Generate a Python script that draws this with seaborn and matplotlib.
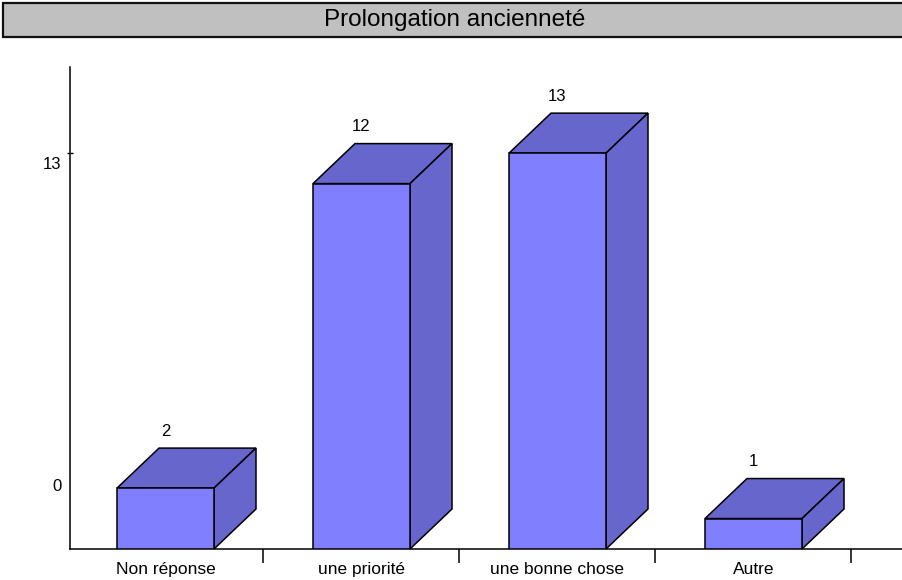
import matplotlib
matplotlib.use("Agg")
import matplotlib.pyplot as plt
from matplotlib.patches import Polygon, Rectangle
import seaborn as sns

# chart data
title = "Prolongation ancienneté"
categories = ["Non réponse", "une priorité", "une bonne chose", "Autre"]
values = [2, 12, 13, 1]
ytick_labels = ["0", "13"]

sns.set_style("white")
plt.rcParams["font.family"] = ["Liberation Sans", "DejaVu Sans"]
plt.rcParams["text.color"] = "black"
plt.rcParams["xtick.color"] = "black"
plt.rcParams["ytick.color"] = "black"

W, H = 903, 580
fig = plt.figure(figsize=(W / 100, H / 100), dpi=100)

# axes placed in pixel terms
left, right, bottom, top = 70, 903, 549, 67
ax = fig.add_axes([left / W, (H - bottom) / H, (right - left) / W, (bottom - top) / H])

px_unit = 30.45      # pixels per value unit
step = 196           # pixels between categories
c0 = 165.5           # pixel centre of first category

front = "#8080FF"
shade = "#6666CC"
sns.barplot(x=categories, y=values, ax=ax, width=97 / step, color=front,
            saturation=1, edgecolor="black", linewidth=1.1, zorder=3)
ax.set_xlim((left - c0) / step, (right - c0) / step)
ax.set_ylim(0, (bottom - top) / px_unit)

# 3D depth
dx = 42 / step
dy = 40 / px_unit
for p, v in zip(ax.patches, values):
    x0, w, h = p.get_x(), p.get_width(), p.get_height()
    top_face = [(x0, h), (x0 + dx, h + dy), (x0 + w + dx, h + dy), (x0 + w, h)]
    side_face = [(x0 + w, 0), (x0 + w, h), (x0 + w + dx, h + dy), (x0 + w + dx, dy)]
    for pts in (top_face, side_face):
        ax.add_patch(Polygon(pts, closed=True, fc=shade, ec="black", lw=1.1,
                             zorder=2, clip_on=False))
    ax.text(x0 + w / 2, h + dy + 17 / px_unit, str(v), ha="center", va="center",
            fontsize=12)

# axes styling
sns.despine(ax=ax)
for s in ("left", "bottom"):
    ax.spines[s].set_linewidth(1.1)
    ax.spines[s].set_color("black")
ax.set_xlabel("")
ax.set_ylabel("")
ax.tick_params(axis="x", which="major", length=0, pad=9.5, labelsize=12.5)
ax.set_xticks([i + 0.5 for i in range(len(categories))], minor=True)
ax.tick_params(axis="x", which="minor", bottom=True, length=10, width=1.1,
               direction="out", color="black")

# y labels sit offset like the original
ax.set_yticks([(bottom - 485) / px_unit, (bottom - 163) / px_unit], ytick_labels)
ax.tick_params(axis="y", which="major", length=0, pad=6, labelsize=12)
ax.set_yticks([13], minor=True)
ax.tick_params(axis="y", which="minor", left=True, length=4, width=1,
               direction="inout", color="black")

# title box, running off the right edge
fig.patches.append(Rectangle((3 / W, 1 - 37 / H), 940 / W, 34 / H,
                             transform=fig.transFigure, fc="#C0C0C0",
                             ec="#111111", lw=1.6))
fig.text(455 / W, 1 - 20 / H, title, ha="center", va="center", fontsize=17.5)

fig.savefig("out.png", dpi=100)
